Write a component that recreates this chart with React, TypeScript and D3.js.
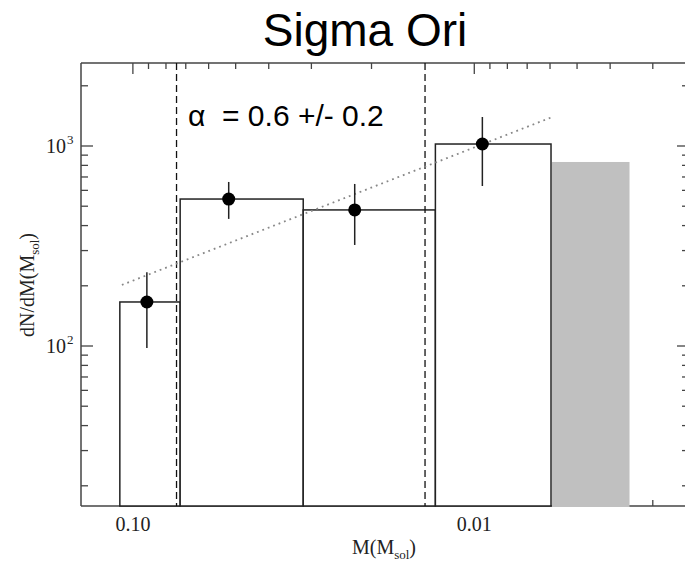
import React from "react";
import * as d3 from "d3";

const binEdges = [0.1092, 0.0727, 0.0317, 0.013, 0.00596];
const binValues = [166, 543, 479, 1023];
const greyBin = [0.00596, 0.00351];
const greyValue = 832;
const pointMass = [0.091, 0.0524, 0.0224, 0.00947];
const pointValue = [166, 543, 479, 1023];
const errLow = [97.7, 432, 320, 631];
const errHigh = [234, 661, 646, 1396];
const dashedMass = [0.0745, 0.01394];
const fitMass = [0.1077, 0.00591];
const fitValue = [202, 1396];
const xMajorTicks = [0.1, 0.01];
const xMajorLabels = ["0.10", "0.01"];
const xMinorTicks = [0.09, 0.08, 0.07, 0.06, 0.05, 0.04, 0.03, 0.02, 0.009, 0.008, 0.007, 0.006, 0.005, 0.004, 0.003];
const yMajorTicks = [100, 1000];
const yMajorExp = ["2", "3"];
const yMinorTicks = [20, 30, 40, 50, 60, 70, 80, 90, 200, 300, 400, 500, 600, 700, 800, 900, 2000];

const W = 685;
const H = 563;
const L = 81, R = 689, T = 63, B = 506;

export default function App() {
  const x = d3.scaleLog().domain([0.1419, 0.00235]).range([L, R]);
  const y = d3.scaleLog().domain([15.85, 2600]).range([B, T]);
  const axisColor = "#444";
  const serif = "'Liberation Serif', 'Times New Roman', serif";
  const sans = "'Liberation Sans', Arial, sans-serif";

  return (
    <svg width={W} height={H} style={{ position: "absolute", left: 0, top: 0, background: "#fff" }}>
      <rect x={0} y={0} width={W} height={H} fill="#fff" />
      {/* frame */}
      <line x1={L} x2={R} y1={T} y2={T} stroke={axisColor} strokeWidth={1.5} />
      <line x1={L} x2={R} y1={B} y2={B} stroke={axisColor} strokeWidth={1.5} />
      <line x1={L} x2={L} y1={T} y2={B} stroke={axisColor} strokeWidth={1.5} />
      <line x1={R} x2={R} y1={T} y2={B} stroke={axisColor} strokeWidth={1.5} />
      {/* x ticks */}
      {xMajorTicks.map((t, i) => (
        <g key={"xm" + i}>
          <line x1={x(t)} x2={x(t)} y1={B} y2={B - 11} stroke={axisColor} strokeWidth={1.3} />
          <line x1={x(t)} x2={x(t)} y1={T} y2={T + 11} stroke={axisColor} strokeWidth={1.3} />
          <text x={x(t)} y={531} textAnchor="middle" fontFamily={serif} fontSize={20} fill="#222">{xMajorLabels[i]}</text>
        </g>
      ))}
      {xMinorTicks.map((t, i) => (
        <g key={"xn" + i}>
          <line x1={x(t)} x2={x(t)} y1={B} y2={B - 6} stroke={axisColor} strokeWidth={1.3} />
          <line x1={x(t)} x2={x(t)} y1={T} y2={T + 6} stroke={axisColor} strokeWidth={1.3} />
        </g>
      ))}
      {/* y ticks */}
      {yMajorTicks.map((t, i) => (
        <g key={"ym" + i}>
          <line x1={L} x2={L + 12} y1={y(t)} y2={y(t)} stroke={axisColor} strokeWidth={1.3} />
          <line x1={R} x2={R - 12} y1={y(t)} y2={y(t)} stroke={axisColor} strokeWidth={1.3} />
          <text x={66} y={y(t) + 7} textAnchor="end" fontFamily={serif} fontSize={20} fill="#222">10</text>
          <text x={67} y={y(t) - 2} textAnchor="start" fontFamily={serif} fontSize={13} fill="#222">{yMajorExp[i]}</text>
        </g>
      ))}
      {yMinorTicks.map((t, i) => (
        <g key={"yn" + i}>
          <line x1={L} x2={L + 7} y1={y(t)} y2={y(t)} stroke={axisColor} strokeWidth={1.3} />
          <line x1={R} x2={R - 7} y1={y(t)} y2={y(t)} stroke={axisColor} strokeWidth={1.3} />
        </g>
      ))}
      {/* histogram bars */}
      {binValues.map((v, i) => (
        <rect key={"b" + i} x={x(binEdges[i])} y={y(v)} width={x(binEdges[i + 1]) - x(binEdges[i])} height={B - y(v)}
          fill="#fff" stroke="#222" strokeWidth={1.5} />
      ))}
      {/* grey bar */}
      <rect x={x(greyBin[0]) + 1} y={y(greyValue)} width={x(greyBin[1]) - x(greyBin[0]) - 1} height={B - y(greyValue) + 1} fill="#c0c0c0" />
      {/* dashed lines */}
      {dashedMass.map((m, i) => (
        <line key={"d" + i} x1={x(m)} x2={x(m)} y1={T} y2={B} stroke="#111" strokeWidth={1.3} strokeDasharray="7,4" />
      ))}
      {/* fit line */}
      <line x1={x(fitMass[0])} y1={y(fitValue[0])} x2={x(fitMass[1])} y2={y(fitValue[1])} stroke="#888" strokeWidth={1.8} strokeDasharray="1.8,4" />
      {/* points with error bars */}
      {pointMass.map((m, i) => (
        <g key={"p" + i}>
          <line x1={x(m)} x2={x(m)} y1={y(errLow[i])} y2={y(errHigh[i])} stroke="#222" strokeWidth={1.5} />
          <circle cx={x(m)} cy={y(pointValue[i])} r={6.5} fill="#000" />
        </g>
      ))}
      {/* title and annotation */}
      <text x={365} y={46} textAnchor="middle" fontFamily={sans} fontSize={46} fill="#000">Sigma Ori</text>
      <text x={188} y={126} fontFamily={sans} fontSize={30} fill="#000" style={{ whiteSpace: "pre" }}>{"α  = 0.6 +/- 0.2"}</text>
      {/* axis titles */}
      <text x={384} y={554} textAnchor="middle" fontFamily={serif} fontSize={20} fill="#222">
        M(M<tspan fontSize={13} dy={5}>sol</tspan><tspan dy={-5}>)</tspan>
      </text>
      <text transform={`translate(34,285) rotate(-90)`} textAnchor="middle" fontFamily={serif} fontSize={20} fill="#222">
        dN/dM(M<tspan fontSize={13} dy={5}>sol</tspan><tspan dy={-5}>)</tspan>
      </text>
    </svg>
  );
}
